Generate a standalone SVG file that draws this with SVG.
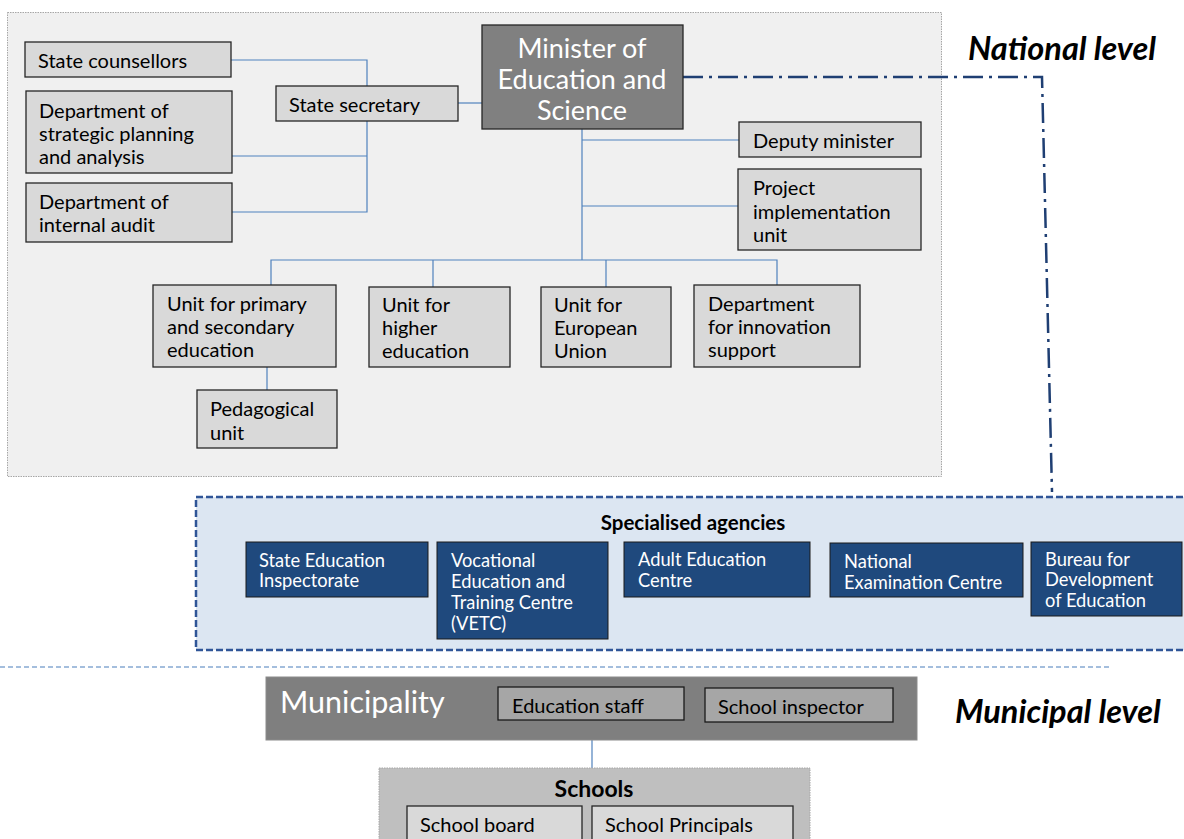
<svg xmlns="http://www.w3.org/2000/svg" width="1184" height="839" viewBox="0 0 1184 839">
  <style>
    text { font-family: Lato, "Open Sans", "Liberation Sans", sans-serif; dominant-baseline: central; }
    .box { fill: #d9d9d9; stroke: #262626; stroke-width: 1.3; }
    .t { font-size: 20px; fill: #000; }
    .agency { fill: #1f497d; stroke: #1a1a1a; stroke-width: 1; }
    .ta { font-size: 18.3px; fill: #fff; }
    .conn { fill: none; stroke: #4f81bd; stroke-width: 1.2; }
    .level { font-size: 32.5px; font-weight: bold; font-style: italic; fill: #000; }
  </style>

  <!-- national level frame -->
  <rect id="national-frame" x="7.5" y="12.5" width="934" height="464" fill="#f0f0f0" stroke="#a6a6a6" stroke-width="1" stroke-dasharray="1.5 1"/>

  <!-- connectors -->
  <g id="connectors">
    <path class="conn" d="M231 60 H367 V86"/>
    <path class="conn" d="M367 121 V212 H232"/>
    <path class="conn" d="M232 156 H367"/>
    <path class="conn" d="M458 103 H482"/>
    <path class="conn" d="M582 129 V260"/>
    <path class="conn" d="M582 140 H739"/>
    <path class="conn" d="M582 206 H738"/>
    <path class="conn" d="M271 285 V260 H777 V285"/>
    <path class="conn" d="M433 260 V287"/>
    <path class="conn" d="M606 260 V287"/>
    <path class="conn" d="M267 367 V390"/>
    <path class="conn" d="M592 740 V768"/>
    <path id="agency-link" d="M683 77 H1042 L1052 492" fill="none" stroke="#1f3f73" stroke-width="2.5" stroke-dasharray="20 6 3 6"/>
  </g>

  <!-- national units -->
  <g id="state-counsellors">
    <rect class="box" x="25" y="42" width="206" height="35"/>
    <text class="t" x="38" y="60">State counsellors</text>
  </g>
  <g id="dept-strategic">
    <rect class="box" x="26" y="91" width="206" height="82"/>
    <text class="t" x="39" y="110">Department of</text>
    <text class="t" x="39" y="133">strategic planning</text>
    <text class="t" x="39" y="156">and analysis</text>
  </g>
  <g id="dept-audit">
    <rect class="box" x="26" y="183" width="206" height="59"/>
    <text class="t" x="39" y="201">Department of</text>
    <text class="t" x="39" y="224">internal audit</text>
  </g>
  <g id="state-secretary">
    <rect class="box" x="276" y="86" width="182" height="35"/>
    <text class="t" x="289" y="104">State secretary</text>
  </g>
  <g id="minister">
    <rect x="482" y="25" width="201" height="104" fill="#808080" stroke="#262626" stroke-width="1.3"/>
    <text x="582" y="47" font-size="27" fill="#fff" text-anchor="middle">Minister of</text>
    <text x="582" y="78" font-size="27" fill="#fff" text-anchor="middle">Education and</text>
    <text x="582" y="109" font-size="27" fill="#fff" text-anchor="middle">Science</text>
  </g>
  <g id="deputy-minister">
    <rect class="box" x="739" y="122" width="182" height="35"/>
    <text class="t" x="753" y="140">Deputy minister</text>
  </g>
  <g id="project-unit">
    <rect class="box" x="738" y="169" width="183" height="81"/>
    <text class="t" x="753" y="187">Project</text>
    <text class="t" x="753" y="211">implementation</text>
    <text class="t" x="753" y="234">unit</text>
  </g>
  <g id="unit-primary">
    <rect class="box" x="153" y="285" width="183" height="82"/>
    <text class="t" x="167" y="303">Unit for primary</text>
    <text class="t" x="167" y="326">and secondary</text>
    <text class="t" x="167" y="349">education</text>
  </g>
  <g id="pedagogical-unit">
    <rect class="box" x="197" y="390" width="140" height="58"/>
    <text class="t" x="210" y="408">Pedagogical</text>
    <text class="t" x="210" y="432">unit</text>
  </g>
  <g id="unit-higher">
    <rect class="box" x="369" y="287" width="141" height="80"/>
    <text class="t" x="382" y="304">Unit for</text>
    <text class="t" x="382" y="327">higher</text>
    <text class="t" x="382" y="350">education</text>
  </g>
  <g id="unit-eu">
    <rect class="box" x="541" y="287" width="130" height="80"/>
    <text class="t" x="554" y="304">Unit for</text>
    <text class="t" x="554" y="327">European</text>
    <text class="t" x="554" y="350">Union</text>
  </g>
  <g id="dept-innovation">
    <rect class="box" x="694" y="285" width="166" height="82"/>
    <text class="t" x="708" y="303">Department</text>
    <text class="t" x="708" y="326">for innovation</text>
    <text class="t" x="708" y="349">support</text>
  </g>

  <text class="level" x="968" y="47">National level</text>

  <!-- specialised agencies -->
  <g id="specialised-agencies">
    <rect x="196" y="497" width="992" height="153" fill="#dce6f2" stroke="#2f5597" stroke-width="2.5" stroke-dasharray="7 3"/>
    <text x="693" y="522" font-size="20.5" font-weight="bold" text-anchor="middle" fill="#000">Specialised agencies</text>
  </g>
  <g id="state-education-inspectorate">
    <rect class="agency" x="246" y="542" width="182" height="55"/>
    <text class="ta" x="259" y="560">State Education</text>
    <text class="ta" x="259" y="580">Inspectorate</text>
  </g>
  <g id="vetc">
    <rect class="agency" x="437" y="542" width="171" height="97"/>
    <text class="ta" x="451" y="560">Vocational</text>
    <text class="ta" x="451" y="581">Education and</text>
    <text class="ta" x="451" y="602">Training Centre</text>
    <text class="ta" x="451" y="623">(VETC)</text>
  </g>
  <g id="adult-education-centre">
    <rect class="agency" x="624" y="542" width="186" height="55"/>
    <text class="ta" x="638" y="559">Adult Education</text>
    <text class="ta" x="638" y="580">Centre</text>
  </g>
  <g id="national-examination-centre">
    <rect class="agency" x="830" y="543" width="193" height="54"/>
    <text class="ta" x="844" y="561">National</text>
    <text class="ta" x="844" y="582">Examination Centre</text>
  </g>
  <g id="bureau-development">
    <rect class="agency" x="1031" y="542" width="151" height="74"/>
    <text class="ta" x="1045" y="559">Bureau  for</text>
    <text class="ta" x="1045" y="579">Development</text>
    <text class="ta" x="1045" y="600">of Education</text>
  </g>

  <!-- level separator -->
  <line x1="0" y1="667" x2="1110" y2="667" stroke="#4a7ebb" stroke-width="1.2" stroke-dasharray="5 3"/>

  <!-- municipal level -->
  <g id="municipality">
    <rect x="266" y="677" width="651" height="63" fill="#7f7f7f" stroke="#8c8c8c" stroke-width="1"/>
    <text x="280" y="701" font-size="30.5" fill="#fff">Municipality</text>
  </g>
  <g id="education-staff">
    <rect x="498" y="687" width="186" height="33" fill="#a6a6a6" stroke="#1a1a1a" stroke-width="1.3"/>
    <text class="t" x="512" y="705">Education staff</text>
  </g>
  <g id="school-inspector">
    <rect x="705" y="688" width="188" height="34" fill="#a6a6a6" stroke="#1a1a1a" stroke-width="1.3"/>
    <text class="t" x="718" y="706">School inspector</text>
  </g>
  <text class="level" x="955" y="710">Municipal level</text>

  <g id="schools">
    <rect x="379" y="768" width="431" height="80" fill="#bfbfbf" stroke="#a6a6a6" stroke-width="1" stroke-dasharray="1.5 1"/>
    <text x="594" y="788" font-size="23" font-weight="bold" text-anchor="middle" fill="#000">Schools</text>
  </g>
  <g id="school-board">
    <rect class="box" x="407" y="806" width="175" height="45"/>
    <text class="t" x="420" y="824">School board</text>
  </g>
  <g id="school-principals">
    <rect class="box" x="592" y="806" width="201" height="45"/>
    <text class="t" x="605" y="824">School Principals</text>
  </g>
</svg>
